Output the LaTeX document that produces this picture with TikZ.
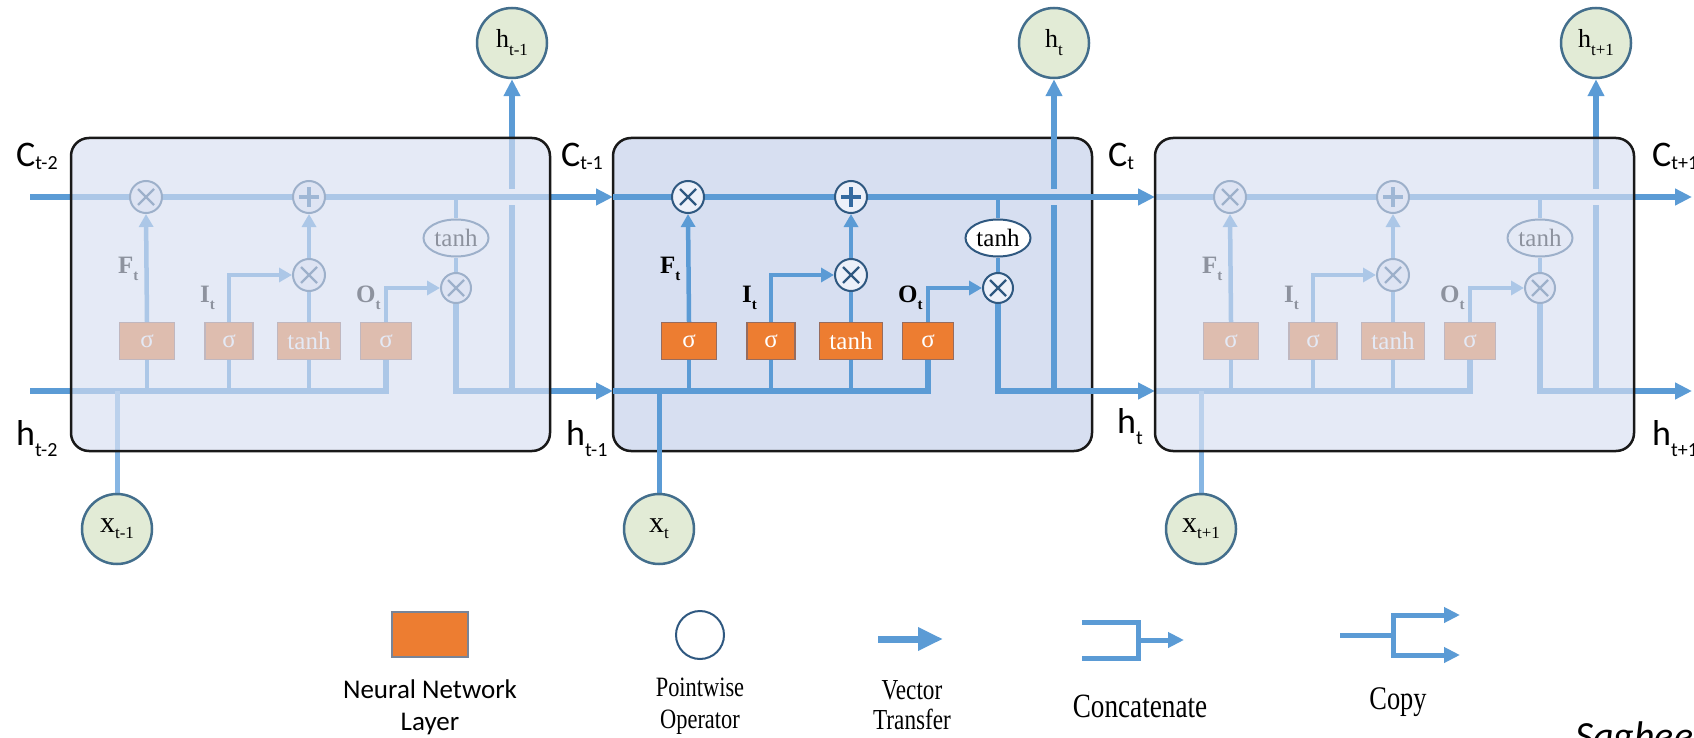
\documentclass[tikz,border=0pt]{standalone}
\usepackage{fontspec}
\setmainfont{Liberation Serif}
\newfontfamily\calfont{Carlito}
\newfontfamily\narrowserif[FakeStretch=0.8]{Liberation Serif}
\usetikzlibrary{arrows.meta,shapes.geometric}

\pgfdeclarelayer{cellbg}
\pgfdeclarelayer{wires}
\pgfdeclarelayer{veil}
\pgfsetlayers{cellbg,wires,main,veil}

\definecolor{flow}{RGB}{91,155,213}
\definecolor{flowlite}{RGB}{135,182,227}
\definecolor{gate}{RGB}{237,125,49}
\definecolor{gateedge}{RGB}{150,108,95}
\definecolor{legedge}{RGB}{120,132,152}
\definecolor{cellfill}{RGB}{215,223,241}
\definecolor{cellframe}{RGB}{25,25,25}
\definecolor{opedge}{RGB}{47,88,128}
\definecolor{opfill}{RGB}{236,240,249}
\definecolor{plusc}{RGB}{52,106,160}
\definecolor{iofill}{RGB}{226,235,214}
\definecolor{ioedge}{RGB}{67,110,140}

% letter with a lowered index: {base}{index}{size}{index size}{drop}
\newcommand\sublbl[5]{{\fontsize{#3}{#3}\selectfont #1\raisebox{-#5pt}{\fontsize{#4}{#4}\selectfont #2}}}

\tikzset{
  wire/.style={draw=flow, line width=5.5pt},
  gwire/.style={draw=flow, line width=4.5pt},
  bigtip/.style={-{Triangle[length=17pt,width=16pt]}},
  smalltip/.style={-{Triangle[length=13pt,width=14pt]}},
  cellbox/.style={rectangle, rounded corners=18pt, draw=cellframe, line width=2.5pt,
    minimum width=479pt, minimum height=313pt, inner sep=0pt},
  op/.style={circle, draw=opedge, line width=2pt, fill=opfill, minimum size=32pt, inner sep=0pt},
  timesop/.style={op, path picture={
    \draw[opedge, line width=2.3pt]
      ([shift={(-8pt,-8pt)}]path picture bounding box.center) -- ([shift={(8pt,8pt)}]path picture bounding box.center)
      ([shift={(-8pt,8pt)}]path picture bounding box.center) -- ([shift={(8pt,-8pt)}]path picture bounding box.center);}},
  plusop/.style={op, path picture={
    \draw[plusc, line width=4pt]
      ([shift={(-10pt,0pt)}]path picture bounding box.center) -- ([shift={(10pt,0pt)}]path picture bounding box.center)
      ([shift={(0pt,-10pt)}]path picture bounding box.center) -- ([shift={(0pt,10pt)}]path picture bounding box.center);}},
  squash/.style={ellipse, draw=opedge, line width=2pt, fill=white, minimum width=65pt,
    minimum height=37pt, inner sep=0pt, font=\fontsize{25}{25}\selectfont},
  gatebox/.style={rectangle, fill=gate, draw=gateedge, line width=1.2pt, minimum height=37pt,
    inner sep=0pt, text=white, font=\fontsize{25}{25}\selectfont},
  gatelbl/.style={anchor=base west, inner sep=0pt, font=\bfseries},
  io/.style={circle, draw=ioedge, line width=2.5pt, fill=iofill, minimum size=70pt, inner sep=0pt},
  seqlbl/.style={anchor=base west, inner sep=0pt, font=\calfont},
  legendtxt/.style={align=center, inner sep=0pt},
}

\begin{document}
\begin{tikzpicture}[x=1pt, y=-1pt]
\useasboundingbox (0,0) rectangle (1694,738);

% cell frames: the middle one sits under its wiring, the outer ones veil theirs
\begin{pgfonlayer}{cellbg}
  \node[cellbox, fill=cellfill] (cell-M) at (852.5,294.5) {};
\end{pgfonlayer}
\begin{pgfonlayer}{veil}
  \node[cellbox, fill=cellfill, fill opacity=0.66] (cell-L) at (310.5,294.5) {};
  \node[cellbox, fill=cellfill, fill opacity=0.66] (cell-R) at (1394.5,294.5) {};
\end{pgfonlayer}

% one LSTM cell per step (local coordinates of the middle cell)
\foreach \n/\dx/\cin/\cout/\s/\xcol in {L/-542/572/1155/t-1/flowlite, M/0/613/1155/t/flow, R/542/613/1150/t+1/flowlite}{
\begin{scope}[xshift=\dx pt]
  \node[timesop] (mf-\n) at (688,197) {};
  \node[plusop] (add-\n) at (851,197) {};
  \node[timesop] (mi-\n) at (851,275) {};
  \node[timesop, minimum size=30pt] (mo-\n) at (998,288) {};
  \node[squash] (th-\n) at (998,238) {tanh};
  \node[gatebox, minimum width=55pt] (gf-\n) at (689,341) {σ};
  \node[gatebox, minimum width=48pt] (gi-\n) at (771,341) {σ};
  \node[gatebox, minimum width=63pt] (gt-\n) at (851,341) {tanh};
  \node[gatebox, minimum width=51pt] (go-\n) at (928,341) {σ};
  \node[gatelbl] (lf-\n) at (660,273) {\sublbl{F}{t}{25}{15}{7}};
  \node[gatelbl] (li-\n) at (742,302) {\sublbl{I}{t}{25}{15}{7}};
  \node[gatelbl] (lo-\n) at (898,302) {\sublbl{O}{t}{25}{15}{7}};
  \node[io] (hc-\n) at (1054,43) {\sublbl{h}{\s}{26}{17}{8}};
  \node[io] (xc-\n) at (659,529) {\sublbl{x}{\s}{30}{17}{6}};

  \coordinate (cin-\n) at (\cin,197);
  \coordinate (cout-\n) at (\cout,197);
  \coordinate (hin-\n) at (\cin,391);
  \coordinate (hout-\n) at (\cout,391);
  \coordinate (tap-\n) at (998,197);
  \coordinate (hup-\n) at (1054,391);
  \coordinate (gapb-\n) at (1054,205);
  \coordinate (gapt-\n) at (1054,189);

  \begin{pgfonlayer}{wires}
    % cell state and hidden state buses
    \draw[wire, bigtip] (cin-\n) -- (cout-\n);
    \draw[wire] (hin-\n) -- (go-\n.south |- hin-\n) -- (go-\n.south);
    \draw[gwire] (gf-\n.south) -- (gf-\n.south |- hin-\n);
    \draw[gwire] (gi-\n.south) -- (gi-\n.south |- hin-\n);
    \draw[gwire] (gt-\n.south) -- (gt-\n.south |- hin-\n);
    \draw[\xcol, line width=5pt] (xc-\n.north) -- (xc-\n.north |- hin-\n);
    % gate outputs
    \draw[gwire, smalltip] (gf-\n.north) -- (mf-\n.south);
    \draw[gwire, smalltip] (gi-\n.north) |- (mi-\n.west);
    \draw[gwire] (gt-\n.north) -- (mi-\n.south);
    \draw[gwire, smalltip] (mi-\n.north) -- (add-\n.south);
    \draw[gwire, smalltip] (go-\n.north) |- (mo-\n.west);
    \draw[gwire] (tap-\n) -- (th-\n.north);
    \draw[gwire] (th-\n.south) -- (mo-\n.north);
    % new hidden state
    \draw[wire, bigtip] (mo-\n.south) |- (hout-\n);
    \draw[wire] (hup-\n) -- (gapb-\n);
    \draw[wire, bigtip] (gapt-\n) -- (hc-\n.south);
  \end{pgfonlayer}
\end{scope}
}

% state labels between the cells
\node[seqlbl] (c-a) at (16,167) {\sublbl{C}{t-2}{36}{20}{3}};
\node[seqlbl] (c-b) at (561,167) {\sublbl{C}{t-1}{36}{20}{3}};
\node[seqlbl] (c-c) at (1108,167) {\sublbl{C}{t}{36}{20}{3}};
\node[seqlbl] (c-d) at (1652,167) {\sublbl{C}{t+1}{36}{20}{3}};
\node[seqlbl] (h-a) at (16,445) {\sublbl{h}{t-2}{36}{20}{11}};
\node[seqlbl] (h-b) at (566,445) {\sublbl{h}{t-1}{36}{20}{11}};
\node[seqlbl] (h-c) at (1117,433) {\sublbl{h}{t}{36}{20}{11}};
\node[seqlbl] (h-d) at (1652,445) {\sublbl{h}{t+1}{36}{20}{11}};

% legend
\node[rectangle, fill=gate, draw=legedge, line width=1.5pt, minimum width=76pt,
      minimum height=45pt, inner sep=0pt] (lg-layer) at (430,634.5) {};
\node[legendtxt, font=\calfont\fontsize{27}{32}\selectfont] (lt-layer) at (430,707) {Neural Network\\Layer};

\node[circle, draw=opedge, line width=2pt, fill=white, minimum size=48pt, inner sep=0pt] (lg-op) at (700,635) {};
\node[legendtxt, font=\narrowserif\fontsize{28}{32}\selectfont] (lt-op) at (700,706) {Pointwise\\Operator};

\coordinate (lv-a) at (878,639);
\coordinate (lv-b) at (943,639);
\draw[draw=flow, line width=7pt, -{Triangle[length=25pt,width=22pt]}] (lv-a) -- (lv-b);
\node[legendtxt, font=\narrowserif\fontsize{29}{30}\selectfont] (lt-vec) at (912,705) {Vector\\Transfer};

\coordinate (lc-top) at (1082,622);
\coordinate (lc-bot) at (1082,658);
\coordinate (lc-join) at (1138,640);
\coordinate (lc-end) at (1184,640);
\draw[wire, line width=5pt] (lc-top) -| (lc-join) |- (lc-bot);
\draw[wire, line width=5pt, -{Triangle[length=16pt,width=15pt]}] (lc-join) -- (lc-end);
\node[legendtxt, font=\narrowserif\fontsize{34}{34}\selectfont] (lt-cat) at (1140,706) {Concatenate};

\coordinate (lp-in) at (1340,635);
\coordinate (lp-split) at (1393,635);
\coordinate (lp-up) at (1460,615);
\coordinate (lp-dn) at (1460,655);
\draw[wire, line width=5pt] (lp-in) -- (lp-split);
\draw[wire, line width=5pt, -{Triangle[length=16pt,width=15pt]}] (lp-split) |- (lp-up);
\draw[wire, line width=5pt, -{Triangle[length=16pt,width=15pt]}] (lp-split) |- (lp-dn);
\node[legendtxt, font=\narrowserif\fontsize{33}{33}\selectfont] (lt-copy) at (1398,702) {Copy};

\node[anchor=base west, inner sep=0pt, font=\calfont\itshape\fontsize{40}{40}\selectfont] (credit) at (1575,749) {Sagheer};
\end{tikzpicture}
\end{document}
